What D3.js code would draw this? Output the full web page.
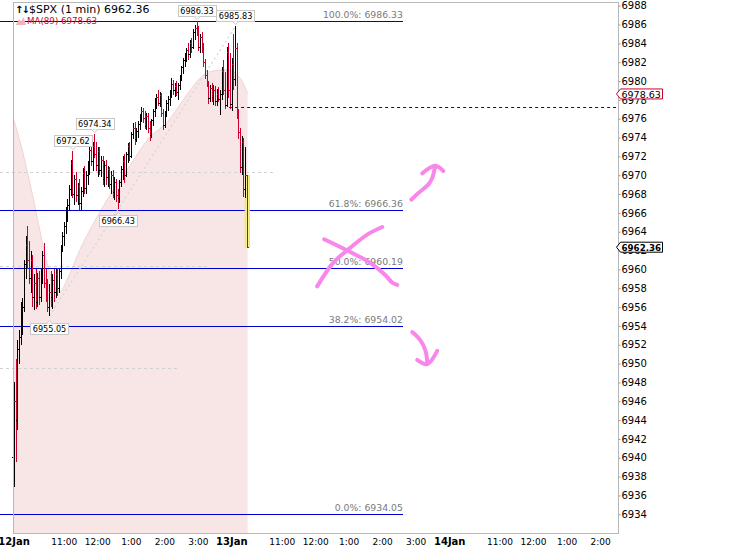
<!DOCTYPE html>
<html>
<head>
<meta charset="utf-8">
<script src="https://cdn.jsdelivr.net/npm/d3@7"></script>
<style>
  html, body { margin: 0; padding: 0; background: #fff; }
  svg { display: block; }
</style>
</head>
<body>
<svg id="chart"></svg>
<script>
// ---- data (minutes are counted from 12 Jan 9:30, 390 per session) ----
const day1Bars = [
  [6940, 6948, 6936.9, 6946], [6946, 6950.5, 6939.6, 6944], [6944, 6952.5, 6943, 6951.5], [6951.5, 6953.6, 6950, 6952.8],
  [6952.8, 6956.5, 6952, 6955.5], [6955.5, 6957, 6953, 6956], [6956, 6961, 6955.5, 6960.5], [6960.5, 6963.5, 6959, 6962.5],
  [6962.5, 6964.6, 6960, 6961], [6961, 6963, 6958.5, 6959], [6959, 6962, 6957.5, 6961], [6961, 6961.5, 6956, 6957],
  [6957, 6959.5, 6955.7, 6958.5], [6958.5, 6960, 6955.8, 6956.5], [6956.5, 6959.6, 6956, 6959], [6959, 6959.8, 6956.2, 6957],
  [6957, 6960, 6956.5, 6959.5], [6959.5, 6962, 6958.5, 6961.5], [6961.5, 6962.8, 6958, 6958.5], [6958.5, 6960, 6956.5, 6957],
  [6957, 6959, 6955.5, 6956], [6956, 6958.5, 6955.05, 6957.5], [6957.5, 6959.8, 6956, 6957], [6957, 6959.5, 6955.8, 6958.8],
  [6958.8, 6960, 6956.5, 6957.5], [6957.5, 6960, 6957, 6959.5], [6959.5, 6960.2, 6957.2, 6958], [6958, 6960, 6957.5, 6959.8],
  [6959.8, 6962.6, 6959, 6962.3], [6962.3, 6964, 6961.8, 6963.5], [6963.5, 6965, 6962.5, 6964.6], [6964.6, 6966.6, 6963.8, 6966],
  [6966, 6967.5, 6965, 6966.8], [6966.8, 6969, 6966.3, 6968.5], [6968.5, 6971.6, 6967.8, 6971.2], [6971.2, 6972.62, 6967.6, 6968],
  [6968, 6970, 6966.8, 6969.5], [6969.5, 6970.3, 6967.2, 6967.8], [6967.8, 6969.2, 6966.8, 6968.8], [6968.8, 6969.6, 6966.3, 6967],
  [6967, 6968.8, 6966.3, 6968.3], [6968.3, 6970.8, 6967.7, 6970.2], [6970.2, 6971, 6968, 6968.6], [6968.6, 6970.5, 6968, 6970],
  [6970, 6971.5, 6969, 6971], [6971, 6973, 6970, 6972.6], [6972.6, 6973.8, 6971, 6971.5], [6971.5, 6973.5, 6970.5, 6973],
  [6973, 6974.34, 6971.8, 6972.2], [6972.2, 6973.5, 6970.5, 6971], [6971, 6973, 6969.8, 6972.5], [6972.5, 6973, 6970, 6970.5],
  [6970.5, 6972, 6969.8, 6971.6], [6971.6, 6972, 6969, 6969.5], [6969.5, 6971.5, 6968.7, 6971], [6971, 6971.6, 6969, 6969.8],
  [6969.8, 6971, 6968.8, 6970.6], [6970.6, 6970.9, 6968.5, 6969], [6969, 6970.5, 6968, 6970], [6970, 6970.6, 6967.6, 6968.2],
  [6968.2, 6969.8, 6967.4, 6969.2], [6969.2, 6969.6, 6967.2, 6967.8], [6967.8, 6968.5, 6966.43, 6967.5], [6967.5, 6969.5, 6967, 6969.2],
  [6969.2, 6971, 6968.7, 6970.6], [6970.6, 6972, 6969.5, 6971.5], [6971.5, 6972.3, 6969.2, 6970], [6970, 6972.5, 6969.8, 6972.2],
  [6972.2, 6973.4, 6971.3, 6973], [6973, 6973.5, 6971.5, 6972], [6972, 6974.6, 6971.8, 6974.3], [6974.3, 6975.5, 6973.8, 6975],
  [6975, 6975.6, 6973.2, 6973.8], [6973.8, 6975, 6973.5, 6974.6], [6974.6, 6975.8, 6974, 6975.4], [6975.4, 6976.5, 6974.8, 6976.2],
  [6976.2, 6977.2, 6975.6, 6976.8], [6976.8, 6977.1, 6975.5, 6976], [6976, 6976.8, 6974.9, 6975.2], [6975.2, 6976.6, 6974.8, 6976.2],
  [6976.2, 6976.6, 6974.5, 6975], [6975, 6975.8, 6973.6, 6974.2], [6974.2, 6976, 6974, 6975.8], [6975.8, 6977, 6975.2, 6976.8],
  [6976.8, 6978.2, 6976.2, 6977.8], [6977.8, 6978.6, 6977, 6978.3], [6978.3, 6979, 6977.3, 6977.6], [6977.6, 6978.8, 6977.2, 6978.5],
  [6978.5, 6978.7, 6976.2, 6976.6], [6976.6, 6977, 6974.8, 6975.3], [6975.3, 6976.8, 6975, 6976.5], [6976.5, 6978, 6976.2, 6977.6],
  [6977.6, 6978.4, 6976.8, 6978], [6978, 6979, 6977.4, 6978.7], [6978.7, 6980.3, 6978.2, 6979.6], [6979.6, 6980.1, 6978.5, 6979],
  [6979, 6979.8, 6978.3, 6979.4], [6979.4, 6980, 6978.4, 6978.8], [6978.8, 6979.8, 6978, 6979.5], [6979.5, 6980.6, 6979, 6980.4],
  [6980.4, 6981.6, 6980, 6981.4], [6981.4, 6982.5, 6980.8, 6982.2], [6982.2, 6983, 6981.5, 6982.6], [6982.6, 6983.5, 6982, 6983.2],
  [6983.2, 6984, 6982.2, 6982.8], [6982.8, 6984.4, 6982.5, 6984], [6984, 6984.6, 6983, 6983.6], [6983.6, 6985.5, 6983.4, 6985.2],
  [6985.2, 6986, 6984.4, 6985.6], [6985.6, 6986.33, 6984.8, 6985], [6985, 6985.8, 6983.2, 6983.6], [6983.6, 6985, 6983, 6984.6],
  [6984.6, 6985.2, 6983, 6983.4], [6983.4, 6984, 6981.5, 6982], [6982, 6982.3, 6980.2, 6980.6], [6980.6, 6981.2, 6979.4, 6979.8],
  [6979.8, 6980, 6977.6, 6978.2], [6978.2, 6979.6, 6977.8, 6979.2], [6979.2, 6979.8, 6977.8, 6978.3], [6978.3, 6979.6, 6977.5, 6979],
  [6979, 6979.5, 6977.4, 6977.8], [6977.8, 6979.2, 6977.3, 6978.6], [6978.6, 6979.4, 6977.8, 6978], [6978, 6979, 6976.4, 6978.6],
  [6978.6, 6981.5, 6978, 6981], [6981, 6982.2, 6978.5, 6979], [6979, 6981, 6977, 6977.4], [6977.4, 6983.6, 6977.2, 6983],
  [6983, 6984, 6978.2, 6979], [6979, 6983, 6977, 6977.2]
]
const day2Bars = [
  [6977.5, 6982.5, 6976.8, 6981.8], [6981.8, 6985, 6979, 6980.2], [6980.2, 6985.83, 6979.5, 6983.5], [6983.5, 6984, 6976, 6976.5],
  [6976.5, 6977, 6973.8, 6974.5], [6974.5, 6975, 6970.2, 6970.8], [6970.8, 6974.2, 6970, 6973.5], [6973.5, 6974, 6967.7, 6968.5],
  [6968.5, 6973, 6967.6, 6970], [6970, 6970, 6962.36, 6962.36]
]
const barMinutes = 3

const maMinutes = [0, 12, 30, 48, 60, 74, 83, 96, 119, 150, 173, 209, 245, 275, 304, 334, 352, 382, 406, 419]
const maValues = [6976.0, 6973.5, 6969.0, 6963.9, 6960.7, 6958.1, 6957.6, 6958.9, 6962.1, 6965.6,
  6967.9, 6971.1, 6974.1, 6975.6, 6978.0, 6980.3, 6981.0, 6981.2, 6980.3, 6978.63]

const fibLabels = ['100.0%', '61.8%', '50.0%', '38.2%', '0.0%']
const fibValues = [6986.33, 6966.36, 6960.19, 6954.02, 6934.05]
const fibEndMinute = 697

const calloutValues = [6986.33, 6985.83, 6974.34, 6972.62, 6966.43, 6955.05]

const refLevels = [6970.33, 6960.37, 6949.54]
const refEndMinutes = [465, 348, 293]
const priorClose = 6977.24
const priorCloseStart = 386

const lastClose = 6962.36
const maLast = 6978.63

const priceTicks = [6934, 6936, 6938, 6940, 6942, 6944, 6946, 6948, 6950, 6952, 6954, 6956, 6958, 6960,
  6962, 6964, 6966, 6968, 6970, 6972, 6974, 6976, 6978, 6980, 6982, 6984, 6986, 6988]
const timeTicks = [0, 90, 150, 210, 270, 330, 390, 480, 540, 600, 660, 720, 780, 870, 930, 990, 1050]
const timeLabels = ['12Jan', '11:00', '12:00', '1:00', '2:00', '3:00', '13Jan', '11:00', '12:00', '1:00', '2:00', '3:00',
  '14Jan', '11:00', '12:00', '1:00', '2:00']

// hand drawn marks, in [minute, price]
const arrowUp = [[712, 6967.4], [724.5, 6968.1], [742.4, 6969.0], [749.6, 6969.7], [753.2, 6970.5], [755, 6970.9]]
const arrowUpHead = [[731.7, 6970.2], [755, 6971.0], [769.3, 6970.45]]
const crossA = [[543.6, 6958.2], [572.3, 6960.7], [602.8, 6962.3], [633.2, 6963.7], [660.1, 6964.5]]
const crossB = [[556.1, 6963.2], [602.8, 6961.85], [638.6, 6960.7], [665.5, 6959.4], [678, 6958.6], [687, 6958.35]]
const arrowDown = [[713.8, 6953.35], [728.1, 6952.5], [737.1, 6951.45], [740.6, 6950.2]]
const arrowDownHead = [[722.7, 6950.4], [740.6, 6949.95], [758.5, 6951.35]]

// ---- layout ----
const width = 732
const height = 547
const plotLeft = 13.5
const plotRight = 618.5
const plotTop = 2.5
const plotBottom = 533.5
const blue = '#0000cc'
const red = '#d0002e'
const font = 'DejaVu Sans, Verdana, sans-serif'

const svg = d3.select('#chart')
  .attr('width', width)
  .attr('height', height)
  .attr('viewBox', `0 0 ${width} ${height}`)

const x = d3.scaleLinear().domain([0, 1083]).range([plotLeft, plotRight])
const y = d3.scaleLinear().domain([6934, 6988]).range([514.3, 5.7])
const px = v => Math.round(v) + 0.5

const bars = day1Bars.map((b, i) => ({ m: i * barMinutes + 1.5, o: b[0], h: b[1], l: b[2], c: b[3] }))
  .concat(day2Bars.map((b, i) => ({ m: 390 + i * barMinutes + 1.5, o: b[0], h: b[1], l: b[2], c: b[3] })))

// MA(89) area
const maData = maMinutes.map((m, i) => [m, maValues[i]])
svg.append('path')
  .datum(maData)
  .attr('d', d3.area().x(d => x(d[0])).y0(plotBottom).y1(d => y(d[1])).curve(d3.curveMonotoneX))
  .attr('fill', '#f8e6e6')
svg.append('path')
  .datum(maData)
  .attr('d', d3.line().x(d => x(d[0])).y(d => y(d[1])).curve(d3.curveMonotoneX))
  .attr('fill', 'none')
  .attr('stroke', '#f1d2d2')
  .attr('stroke-width', 1)

// grey reference levels
refLevels.forEach((v, i) => {
  svg.append('line')
    .attr('x1', 0).attr('x2', x(refEndMinutes[i]))
    .attr('y1', px(y(v))).attr('y2', px(y(v)))
    .attr('stroke', '#d2d2d2')
    .attr('stroke-dasharray', '3,3')
})

// fibonacci lines
fibValues.forEach(v => {
  svg.append('line')
    .attr('x1', 0).attr('x2', x(fibEndMinute))
    .attr('y1', px(y(v))).attr('y2', px(y(v)))
    .attr('stroke', blue)
    .attr('shape-rendering', 'crispEdges')
})

// trend line from the low to the high
const lowBar = bars.find(b => b.l === 6955.05)
const highBar = bars.find(b => b.h === 6985.83)
svg.append('line')
  .attr('x1', x(lowBar.m)).attr('y1', y(lowBar.l))
  .attr('x2', x(highBar.m)).attr('y2', y(highBar.h))
  .attr('stroke', '#d6d6d6')
  .attr('stroke-width', 1.3)
  .attr('stroke-dasharray', '2,3')

// prior close
svg.append('line')
  .attr('x1', x(priorCloseStart)).attr('x2', plotRight)
  .attr('y1', px(y(priorClose))).attr('y2', px(y(priorClose)))
  .attr('stroke', blue)
  .attr('stroke-dasharray', '3,3')

// last bar highlight
const last = bars[bars.length - 1]
svg.append('rect')
  .attr('x', x(last.m) - 2.2)
  .attr('y', y(last.h))
  .attr('width', 4.4)
  .attr('height', y(last.l) - y(last.h))
  .attr('fill', '#f9ee8a')
  .attr('stroke', '#f1df5c')
  .attr('stroke-width', 0.8)

// OHLC bars
svg.append('g')
  .attr('shape-rendering', 'crispEdges')
  .selectAll('path')
  .data(bars)
  .join('path')
  .attr('d', b => {
    const bx = x(b.m)
    return `M${bx},${y(b.h)}V${y(b.l)}M${bx - 2},${y(b.o)}H${bx}M${bx},${y(b.c)}H${bx + 2}`
  })
  .attr('fill', 'none')
  .attr('stroke', b => b.c < b.o ? red : '#000')
  .attr('stroke-width', 1)

// high / low callouts
calloutValues.forEach(v => {
  let bar = bars.find(b => b.h === v)
  const isHigh = !!bar
  if (!bar) bar = bars.find(b => b.l === v)
  const cx = x(bar.m)
  const g = svg.append('g')
  const t = g.append('text')
    .attr('font-family', 'DejaVu Sans Condensed, DejaVu Sans, sans-serif')
    .attr('font-size', '9px')
    .attr('fill', '#000')
    .attr('text-anchor', 'middle')
    .text(v.toFixed(2))
  const w = t.node().getComputedTextLength() + 5
  const h = 11
  const top = isHigh ? y(bar.h) - 5 - h : y(bar.l) + 6.5
  g.insert('rect', 'text')
    .attr('x', Math.round(cx - w / 2) + 0.5)
    .attr('y', Math.round(top) + 0.5)
    .attr('width', Math.round(w))
    .attr('height', h)
    .attr('fill', '#fff')
    .attr('stroke', '#c8c8c8')
  const edge = isHigh ? Math.round(top) + 0.5 + h : Math.round(top) + 0.5
  const dir = isHigh ? 3 : -3
  g.append('path')
    .attr('d', `M${cx - 3},${edge}L${cx},${edge + dir}L${cx + 3},${edge}`)
    .attr('fill', '#fff')
    .attr('stroke', '#c8c8c8')
  t.attr('x', cx).attr('y', Math.round(top) + 9)
})

// fib labels
fibValues.forEach((v, i) => {
  svg.append('text')
    .attr('x', x(fibEndMinute))
    .attr('y', y(v) - 3)
    .attr('text-anchor', 'end')
    .attr('font-family', font)
    .attr('font-size', '9.3px')
    .attr('fill', '#7a7a7a')
    .text(`${fibLabels[i]}: ${v.toFixed(2)}`)
})

// hand drawn annotations
const pen = d3.line().x(d => x(d[0])).y(d => y(d[1])).curve(d3.curveCatmullRom)
;[arrowUp, arrowUpHead, crossA, crossB, arrowDown, arrowDownHead].forEach(stroke => {
  svg.append('path')
    .attr('d', pen(stroke))
    .attr('fill', 'none')
    .attr('stroke', '#f986ea')
    .attr('stroke-width', 4)
    .attr('stroke-linecap', 'round')
    .attr('stroke-linejoin', 'round')
})

// frame
svg.append('path')
  .attr('d', `M${plotLeft},${plotBottom}V${plotTop}H${plotRight}V${plotBottom}H${plotLeft}`)
  .attr('fill', 'none')
  .attr('stroke', '#b8b8b8')
  .attr('shape-rendering', 'crispEdges')

// price axis
const yAxis = svg.append('g')
  .attr('transform', `translate(${plotRight},0)`)
  .call(d3.axisRight(y).tickValues(priceTicks).tickSize(2).tickSizeOuter(0).tickPadding(1).tickFormat(d3.format('d')))
yAxis.select('.domain').remove()
yAxis.selectAll('line').attr('stroke', '#999')
yAxis.selectAll('text')
  .attr('font-family', font)
  .attr('font-size', '10px')
  .attr('fill', '#000')

// time axis
const xAxis = svg.append('g')
  .attr('transform', `translate(0,${plotBottom})`)
  .call(d3.axisBottom(x).tickValues(timeTicks).tickSize(0).tickFormat((d, i) => timeLabels[i]))
xAxis.select('.domain').remove()
xAxis.selectAll('text')
  .attr('y', 11.5)
  .attr('dy', null)
  .attr('font-family', font)
  .attr('font-size', (d, i) => timeLabels[i].includes('Jan') ? '10px' : '9px')
  .attr('font-weight', (d, i) => timeLabels[i].includes('Jan') ? 'bold' : 'normal')
  .attr('fill', '#000')

// value markers on the price axis
function marker(v, stroke, bold) {
  const cy = y(v)
  svg.append('path')
    .attr('d', `M${plotRight - 2},${cy}L${plotRight + 2},${cy - 5}H${plotRight + 44}V${cy + 5}H${plotRight + 2}Z`)
    .attr('fill', '#fff')
    .attr('stroke', stroke)
    .attr('stroke-width', 1)
  svg.append('text')
    .attr('x', plotRight + 3)
    .attr('y', cy + 3.6)
    .attr('font-family', font)
    .attr('font-size', bold ? '8.7px' : '9.5px')
    .attr('font-weight', bold ? 'bold' : 'normal')
    .attr('fill', '#000')
    .text(v.toFixed(2))
}
marker(maLast, red, false)
marker(lastClose, '#000', true)

// title and legend
svg.append('text')
  .attr('x', 15).attr('y', 13)
  .attr('font-family', font)
  .attr('font-size', '10px')
  .attr('font-weight', 'bold')
  .attr('letter-spacing', '-2px')
  .text('↑↓')
svg.append('text')
  .attr('x', 29).attr('y', 13)
  .attr('font-family', font)
  .attr('font-size', '11px')
  .attr('fill', '#000')
  .text(`$SPX (1 min) ${lastClose.toFixed(2)}`)
svg.append('path')
  .attr('d', 'M16,25L19,19L21,21.5L23.5,17L26,25Z')
  .attr('fill', '#f0b4bd')
svg.append('text')
  .attr('x', 27).attr('y', 24)
  .attr('font-family', font)
  .attr('font-size', '8.7px')
  .attr('fill', red)
  .text(`MA(89) ${maLast.toFixed(2)}`)
</script>
</body>
</html>
